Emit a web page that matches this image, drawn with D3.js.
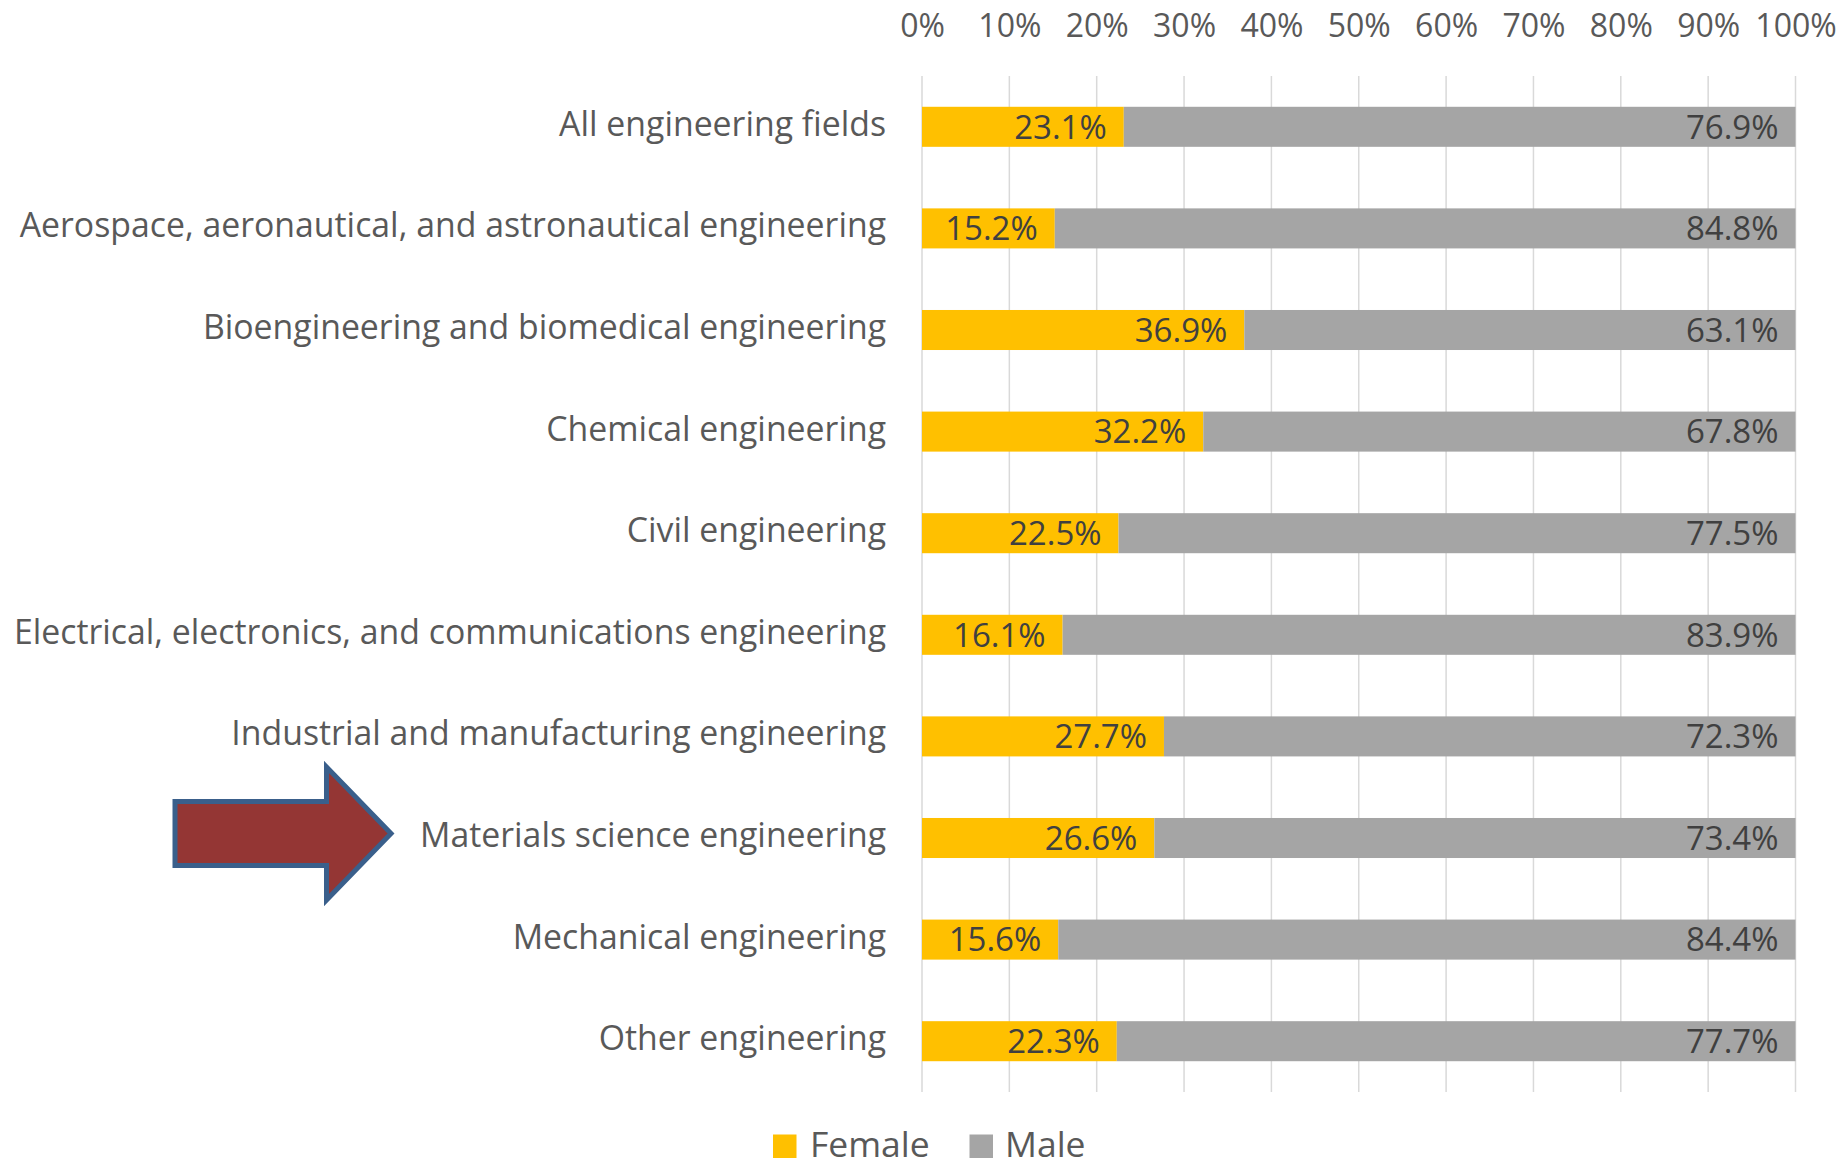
<!DOCTYPE html>
<html>
<head>
<meta charset="utf-8">
<script src="https://cdn.jsdelivr.net/npm/d3@7"></script>
<style>
  html, body { margin: 0; padding: 0; background: #ffffff; }
  svg { display: block; font-family: "Open Sans", "Noto Sans", sans-serif; }
</style>
</head>
<body>
<svg id="chart" width="1841" height="1168"></svg>
<script>
// Share of engineering degrees by sex, per field
const categories = [
  "All engineering fields",
  "Aerospace, aeronautical, and astronautical engineering",
  "Bioengineering and biomedical engineering",
  "Chemical engineering",
  "Civil engineering",
  "Electrical, electronics, and communications engineering",
  "Industrial and manufacturing engineering",
  "Materials science engineering",
  "Mechanical engineering",
  "Other engineering"
];
const female = [23.1, 15.2, 36.9, 32.2, 22.5, 16.1, 27.7, 26.6, 15.6, 22.3];
const male   = [76.9, 84.8, 63.1, 67.8, 77.5, 83.9, 72.3, 73.4, 84.4, 77.7];
const seriesNames = ["Female", "Male"];
const tickValues = [0, 10, 20, 30, 40, 50, 60, 70, 80, 90, 100];
const highlighted = "Materials science engineering";

const colors = { Female: "#FFC000", Male: "#A5A5A5" };

const svg = d3.select("#chart");
const plot = { left: 922, right: 1795.5, top: 76, bottom: 1092 };

const x = d3.scaleLinear().domain([0, 100]).range([plot.left, plot.right]);
const y = d3.scaleBand().domain(categories).range([plot.top, plot.bottom])
  .paddingInner(0.606).paddingOuter(0.303);

// vertical gridlines
svg.append("g")
  .selectAll("line")
  .data(tickValues)
  .join("line")
  .attr("x1", d => x(d)).attr("x2", d => x(d))
  .attr("y1", plot.top).attr("y2", plot.bottom)
  .attr("stroke", "#D9D9D9")
  .attr("stroke-width", 1.5);

// top axis labels
const axis = d3.axisTop(x).tickValues(tickValues).tickFormat(d => d + "%").tickSize(0).tickPadding(0);
const axisG = svg.append("g").attr("transform", "translate(0,37)").call(axis);
axisG.select(".domain").remove();
axisG.selectAll("text")
  .attr("font-size", 32)
  .attr("fill", "#595959")
  .attr("font-family", "\"Open Sans\", sans-serif")
  .attr("dy", 0);

// stacked bars
const rows = categories.map((c, i) => ({ category: c, Female: female[i], Male: male[i] }));
const stacked = d3.stack().keys(seriesNames)(rows);

const layers = svg.append("g")
  .selectAll("g")
  .data(stacked)
  .join("g")
  .attr("fill", d => colors[d.key]);

layers.selectAll("rect")
  .data(d => d)
  .join("rect")
  .attr("x", d => x(d[0]))
  .attr("width", d => x(d[1]) - x(d[0]))
  .attr("y", d => y(d.data.category))
  .attr("height", y.bandwidth());

// value labels at the inside end of each segment
layers.selectAll("text")
  .data(d => d.map(v => ({ v, key: d.key })))
  .join("text")
  .attr("x", d => x(d.v[1]) - 17)
  .attr("y", d => y(d.v.data.category) + y.bandwidth() / 2)
  .attr("dy", "0.36em")
  .attr("text-anchor", "end")
  .attr("font-size", 33)
  .attr("fill", "#404040")
  .text(d => d.v.data[d.key].toFixed(1) + "%");

// category labels
svg.append("g")
  .selectAll("text")
  .data(categories)
  .join("text")
  .attr("x", plot.left - 36)
  .attr("y", d => y(d) + y.bandwidth() / 2 + 9)
  .attr("text-anchor", "end")
  .attr("font-size", 33.8)
  .attr("fill", "#595959")
  .text(d => d);

// arrow pointing at the highlighted field
const ay = y(highlighted) + y.bandwidth() / 2 - 4.5;
const arrowPts = [
  [175, ay - 32], [326.5, ay - 32], [326.5, ay - 66.5],
  [391, ay], [326.5, ay + 66.5], [326.5, ay + 32], [175, ay + 32]
];
svg.append("path")
  .attr("d", d3.line()(arrowPts) + "Z")
  .attr("fill", "#943634")
  .attr("stroke", "#3A5F8B")
  .attr("stroke-width", 5)
  .attr("stroke-linejoin", "miter");

// legend
const legendItems = [
  { name: "Female", sx: 773, tx: 810 },
  { name: "Male", sx: 969.5, tx: 1005 }
];
const lg = svg.append("g");
lg.selectAll("rect")
  .data(legendItems)
  .join("rect")
  .attr("x", d => d.sx).attr("y", 1134.5)
  .attr("width", 23.5).attr("height", 23.5)
  .attr("fill", d => colors[d.name]);
lg.selectAll("text")
  .data(legendItems)
  .join("text")
  .attr("x", d => d.tx).attr("y", 1157)
  .attr("font-size", 35.5)
  .attr("fill", "#595959")
  .text(d => d.name);
</script>
</body>
</html>
